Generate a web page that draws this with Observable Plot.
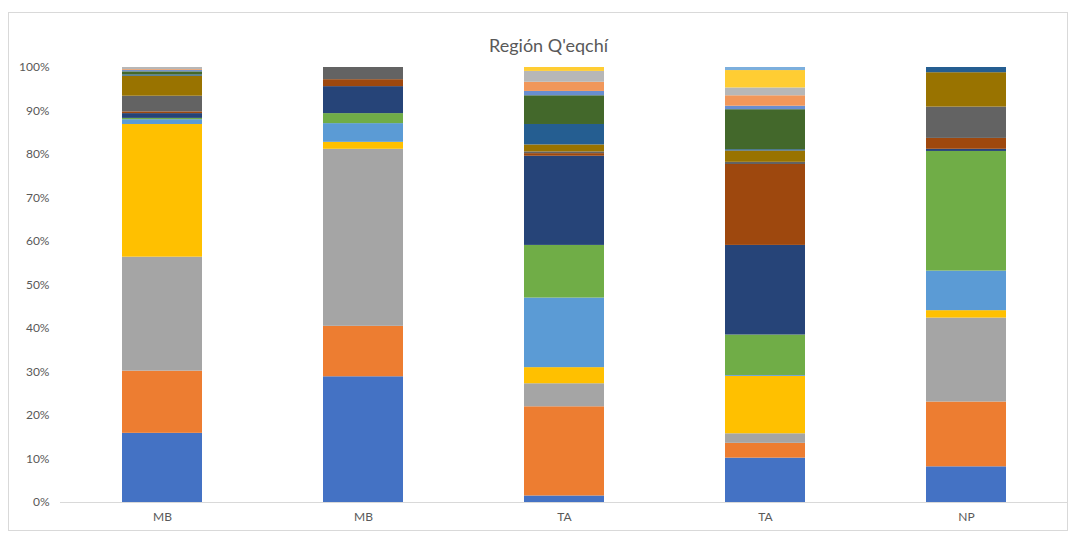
<!DOCTYPE html>
<html>
<head>
<meta charset="utf-8">
<script src="https://cdn.jsdelivr.net/npm/d3@7"></script>
<script src="https://cdn.jsdelivr.net/npm/@observablehq/plot@0.6"></script>
<style>
  html, body { margin: 0; padding: 0; background: #fff; }
  #wrap { position: relative; width: 1074px; height: 533px; }
  #frame { position: absolute; left: 8px; top: 12px; width: 1058px; height: 517px; border: 1px solid #d9d9d9; pointer-events: none; }
  svg { font-family: Lato, "Open Sans", sans-serif; }
</style>
</head>
<body>
<div id="wrap"><div id="frame"></div></div>
<script>
// Category labels (x axis)
const categories = ["MB", "MB", "TA", "TA", "NP"];
// Series (Excel default order, bottom to top)
const seriesNames = ["S1","S2","S3","S4","S5","S6","S7","S8","S9","S10","S11","S12","S13","S14","S15","S16","S17"];
const seriesColors = ["#4472C4","#ED7D31","#A5A5A5","#FFC000","#5B9BD5","#70AD47","#264478","#9E480E","#636363","#997300","#255E91","#43682B","#698ED0","#F1975A","#B7B7B7","#FFCD33","#7CAFDD"];
// Percent shares per bar, series order
const bar1MB = [15.9, 14.3, 26.2, 30.5, 1.1, 0.3, 1.1, 0.4, 3.6, 4.6, 0.3, 0.7, 0.3, 0.2, 0.5, 0, 0];
const bar2MB = [28.9, 11.6, 40.7, 1.6, 4.3, 2.3, 6.2, 1.6, 2.8, 0, 0, 0, 0, 0, 0, 0, 0];
const bar3TA = [1.5, 20.5, 5.3, 3.7, 16.0, 12.1, 20.5, 0.6, 0.4, 1.6, 4.7, 6.6, 1.0, 2.1, 2.5, 0.9, 0];
const bar4TA = [10.2, 3.4, 2.2, 13.2, 0.2, 9.3, 20.6, 18.6, 0.5, 2.6, 0.3, 9.2, 0.8, 2.4, 1.8, 4.0, 0.7];
const bar5NP = [8.2, 14.9, 19.3, 1.7, 9.1, 27.5, 0.5, 2.5, 7.2, 7.9, 1.2, 0, 0, 0, 0, 0, 0];
const yTicks = [0, 0.1, 0.2, 0.3, 0.4, 0.5, 0.6, 0.7, 0.8, 0.9, 1.0];
const title = "Región Q'eqchí";

const bars = [bar1MB, bar2MB, bar3TA, bar4TA, bar5NP];
const data = [];
bars.forEach((vals, i) => {
  vals.forEach((v, j) => {
    data.push({cat: i, series: seriesNames[j], value: v});
  });
});

const chart = Plot.plot({
  width: 1074,
  height: 533,
  marginTop: 67,
  marginBottom: 31,
  marginLeft: 60,
  marginRight: 6,
  style: {fontSize: "12px", color: "#595959", background: "transparent"},
  x: {
    domain: categories.map((d, i) => i),
    paddingInner: 0.6,
    paddingOuter: 0.3,
    tickFormat: i => categories[i],
    tickSize: 0,
    tickPadding: 10,
    label: null
  },
  y: {
    domain: [0, 1],
    ticks: yTicks,
    tickFormat: d3.format(".0%"),
    tickSize: 0,
    tickPadding: 11,
    label: null
  },
  color: {domain: seriesNames, range: seriesColors},
  marks: [
    Plot.barY(data, Plot.stackY({offset: "normalize", order: null}, {
      x: "cat", y: "value", z: "series", fill: "series"
    })),
    Plot.ruleY([0], {stroke: "#d9d9d9", strokeWidth: 1}),
    Plot.text([title], {
      frameAnchor: "top", dy: -28, dx: -16, text: d => d,
      fontSize: 18, fill: "#595959"
    })
  ]
});
document.getElementById("wrap").appendChild(chart);
chart.style.position = "absolute";
chart.style.left = "0";
chart.style.top = "0";
</script>
</body>
</html>
